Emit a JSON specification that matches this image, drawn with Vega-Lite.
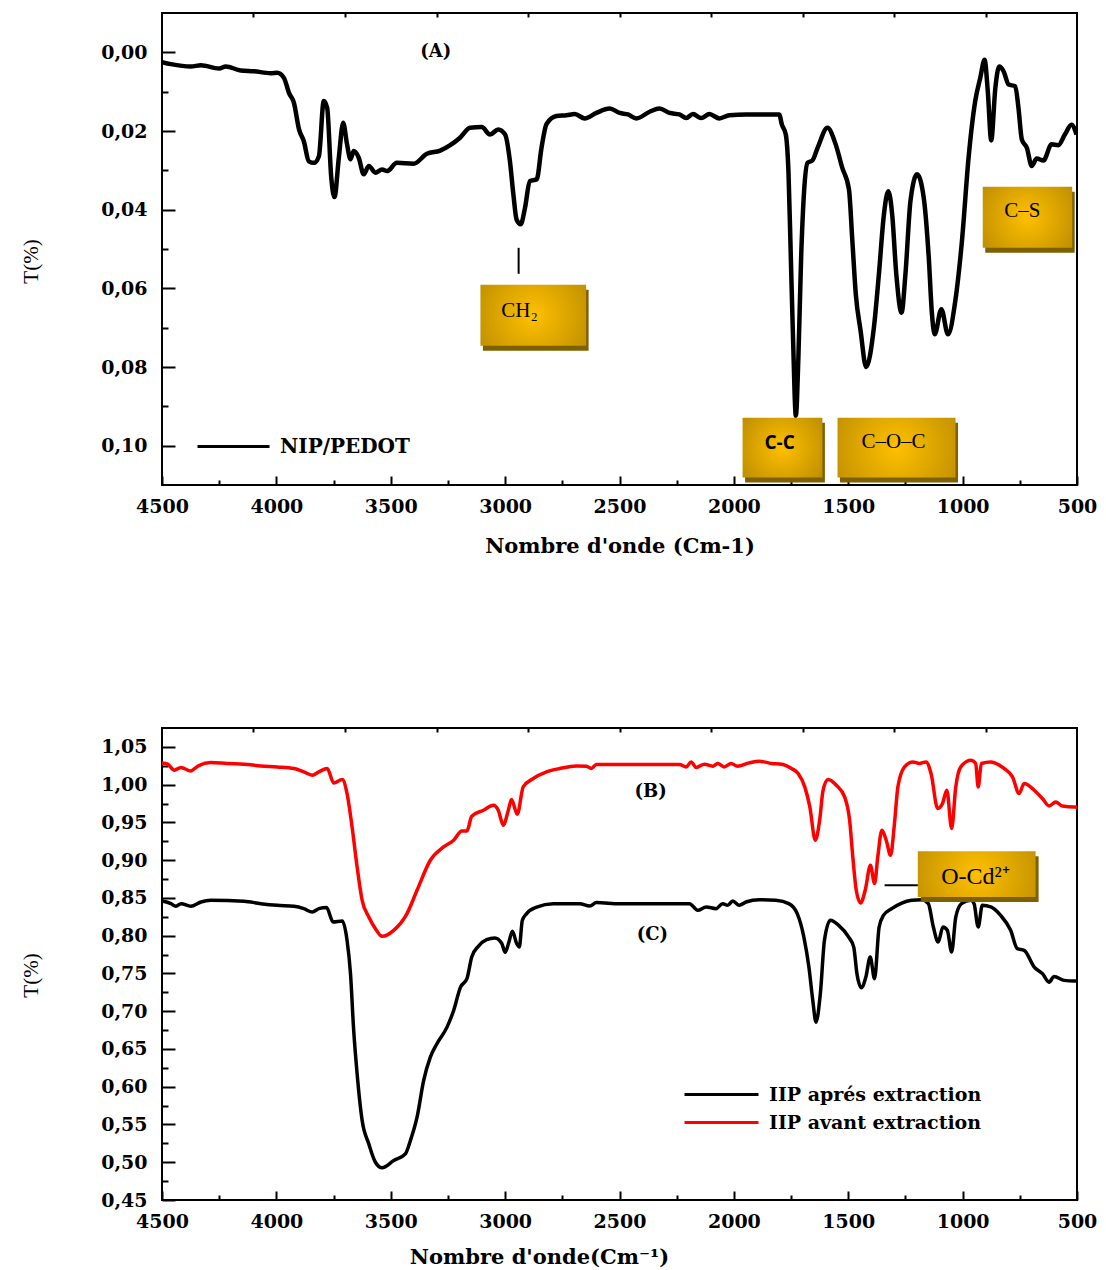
{
  "$schema": "https://vega.github.io/schema/vega-lite/v6.json",
  "background": "white",
  "padding": {"left": 19, "top": 11, "right": 0, "bottom": 0},
  "spacing": 169,
  "resolve": {"scale": {"color": "independent"}, "legend": {"color": "independent"}},
  "config": {
    "view": {"stroke": "black", "strokeWidth": 2},
    "axis": {"tickColor": "black", "tickWidth": 2, "labelColor": "black", "titleColor": "black", "grid": false, "domain": false}
  },
  "datasets": {
    "A": [
      {"wn": 4500, "T": 0.0025, "s": "NIP/PEDOT"}, {"wn": 4461, "T": 0.0030, "s": "NIP/PEDOT"}, {"wn": 4374, "T": 0.0036, "s": "NIP/PEDOT"},
      {"wn": 4330, "T": 0.0033, "s": "NIP/PEDOT"}, {"wn": 4250, "T": 0.0041, "s": "NIP/PEDOT"}, {"wn": 4221, "T": 0.0036, "s": "NIP/PEDOT"},
      {"wn": 4156, "T": 0.0046, "s": "NIP/PEDOT"}, {"wn": 4098, "T": 0.0048, "s": "NIP/PEDOT"}, {"wn": 4025, "T": 0.0053, "s": "NIP/PEDOT"},
      {"wn": 3996, "T": 0.0052, "s": "NIP/PEDOT"}, {"wn": 3967, "T": 0.0065, "s": "NIP/PEDOT"}, {"wn": 3945, "T": 0.0103, "s": "NIP/PEDOT"},
      {"wn": 3923, "T": 0.0129, "s": "NIP/PEDOT"}, {"wn": 3901, "T": 0.0196, "s": "NIP/PEDOT"}, {"wn": 3880, "T": 0.0226, "s": "NIP/PEDOT"},
      {"wn": 3858, "T": 0.0277, "s": "NIP/PEDOT"}, {"wn": 3836, "T": 0.0281, "s": "NIP/PEDOT"}, {"wn": 3814, "T": 0.0264, "s": "NIP/PEDOT"},
      {"wn": 3793, "T": 0.0124, "s": "NIP/PEDOT"}, {"wn": 3778, "T": 0.0141, "s": "NIP/PEDOT"}, {"wn": 3760, "T": 0.0319, "s": "NIP/PEDOT"},
      {"wn": 3746, "T": 0.0368, "s": "NIP/PEDOT"}, {"wn": 3727, "T": 0.0268, "s": "NIP/PEDOT"}, {"wn": 3708, "T": 0.0179, "s": "NIP/PEDOT"},
      {"wn": 3691, "T": 0.0234, "s": "NIP/PEDOT"}, {"wn": 3676, "T": 0.0272, "s": "NIP/PEDOT"}, {"wn": 3662, "T": 0.0251, "s": "NIP/PEDOT"},
      {"wn": 3640, "T": 0.0268, "s": "NIP/PEDOT"}, {"wn": 3618, "T": 0.0310, "s": "NIP/PEDOT"}, {"wn": 3596, "T": 0.0289, "s": "NIP/PEDOT"},
      {"wn": 3567, "T": 0.0306, "s": "NIP/PEDOT"}, {"wn": 3538, "T": 0.0298, "s": "NIP/PEDOT"}, {"wn": 3516, "T": 0.0302, "s": "NIP/PEDOT"},
      {"wn": 3473, "T": 0.0281, "s": "NIP/PEDOT"}, {"wn": 3400, "T": 0.0283, "s": "NIP/PEDOT"}, {"wn": 3342, "T": 0.0258, "s": "NIP/PEDOT"},
      {"wn": 3284, "T": 0.0250, "s": "NIP/PEDOT"}, {"wn": 3240, "T": 0.0236, "s": "NIP/PEDOT"}, {"wn": 3197, "T": 0.0217, "s": "NIP/PEDOT"},
      {"wn": 3153, "T": 0.0192, "s": "NIP/PEDOT"}, {"wn": 3102, "T": 0.0190, "s": "NIP/PEDOT"}, {"wn": 3066, "T": 0.0209, "s": "NIP/PEDOT"},
      {"wn": 3030, "T": 0.0196, "s": "NIP/PEDOT"}, {"wn": 3000, "T": 0.0209, "s": "NIP/PEDOT"}, {"wn": 2979, "T": 0.0277, "s": "NIP/PEDOT"},
      {"wn": 2964, "T": 0.0361, "s": "NIP/PEDOT"}, {"wn": 2950, "T": 0.0425, "s": "NIP/PEDOT"}, {"wn": 2932, "T": 0.0437, "s": "NIP/PEDOT"},
      {"wn": 2913, "T": 0.0395, "s": "NIP/PEDOT"}, {"wn": 2892, "T": 0.0327, "s": "NIP/PEDOT"}, {"wn": 2862, "T": 0.0323, "s": "NIP/PEDOT"},
      {"wn": 2841, "T": 0.0243, "s": "NIP/PEDOT"}, {"wn": 2819, "T": 0.0182, "s": "NIP/PEDOT"}, {"wn": 2775, "T": 0.0162, "s": "NIP/PEDOT"},
      {"wn": 2732, "T": 0.0160, "s": "NIP/PEDOT"}, {"wn": 2695, "T": 0.0157, "s": "NIP/PEDOT"}, {"wn": 2652, "T": 0.0168, "s": "NIP/PEDOT"},
      {"wn": 2601, "T": 0.0154, "s": "NIP/PEDOT"}, {"wn": 2543, "T": 0.0143, "s": "NIP/PEDOT"}, {"wn": 2499, "T": 0.0154, "s": "NIP/PEDOT"},
      {"wn": 2463, "T": 0.0158, "s": "NIP/PEDOT"}, {"wn": 2426, "T": 0.0168, "s": "NIP/PEDOT"}, {"wn": 2368, "T": 0.0151, "s": "NIP/PEDOT"},
      {"wn": 2325, "T": 0.0143, "s": "NIP/PEDOT"}, {"wn": 2281, "T": 0.0154, "s": "NIP/PEDOT"}, {"wn": 2238, "T": 0.0158, "s": "NIP/PEDOT"},
      {"wn": 2208, "T": 0.0167, "s": "NIP/PEDOT"}, {"wn": 2179, "T": 0.0157, "s": "NIP/PEDOT"}, {"wn": 2143, "T": 0.0167, "s": "NIP/PEDOT"},
      {"wn": 2107, "T": 0.0157, "s": "NIP/PEDOT"}, {"wn": 2063, "T": 0.0168, "s": "NIP/PEDOT"}, {"wn": 2020, "T": 0.0160, "s": "NIP/PEDOT"},
      {"wn": 1947, "T": 0.0158, "s": "NIP/PEDOT"}, {"wn": 1875, "T": 0.0158, "s": "NIP/PEDOT"}, {"wn": 1802, "T": 0.0158, "s": "NIP/PEDOT"},
      {"wn": 1790, "T": 0.0184, "s": "NIP/PEDOT"}, {"wn": 1773, "T": 0.0209, "s": "NIP/PEDOT"}, {"wn": 1761, "T": 0.0310, "s": "NIP/PEDOT"},
      {"wn": 1751, "T": 0.0522, "s": "NIP/PEDOT"}, {"wn": 1741, "T": 0.0734, "s": "NIP/PEDOT"}, {"wn": 1729, "T": 0.0924, "s": "NIP/PEDOT"},
      {"wn": 1718, "T": 0.0776, "s": "NIP/PEDOT"}, {"wn": 1706, "T": 0.0522, "s": "NIP/PEDOT"}, {"wn": 1693, "T": 0.0353, "s": "NIP/PEDOT"},
      {"wn": 1678, "T": 0.0281, "s": "NIP/PEDOT"}, {"wn": 1657, "T": 0.0275, "s": "NIP/PEDOT"}, {"wn": 1634, "T": 0.0243, "s": "NIP/PEDOT"},
      {"wn": 1591, "T": 0.0192, "s": "NIP/PEDOT"}, {"wn": 1555, "T": 0.0234, "s": "NIP/PEDOT"}, {"wn": 1526, "T": 0.0294, "s": "NIP/PEDOT"},
      {"wn": 1497, "T": 0.0348, "s": "NIP/PEDOT"}, {"wn": 1482, "T": 0.0480, "s": "NIP/PEDOT"}, {"wn": 1467, "T": 0.0615, "s": "NIP/PEDOT"},
      {"wn": 1446, "T": 0.0708, "s": "NIP/PEDOT"}, {"wn": 1422, "T": 0.0800, "s": "NIP/PEDOT"}, {"wn": 1388, "T": 0.0700, "s": "NIP/PEDOT"},
      {"wn": 1366, "T": 0.0564, "s": "NIP/PEDOT"}, {"wn": 1344, "T": 0.0412, "s": "NIP/PEDOT"}, {"wn": 1325, "T": 0.0353, "s": "NIP/PEDOT"},
      {"wn": 1308, "T": 0.0412, "s": "NIP/PEDOT"}, {"wn": 1290, "T": 0.0564, "s": "NIP/PEDOT"}, {"wn": 1267, "T": 0.0662, "s": "NIP/PEDOT"},
      {"wn": 1250, "T": 0.0564, "s": "NIP/PEDOT"}, {"wn": 1228, "T": 0.0378, "s": "NIP/PEDOT"}, {"wn": 1199, "T": 0.0310, "s": "NIP/PEDOT"},
      {"wn": 1170, "T": 0.0370, "s": "NIP/PEDOT"}, {"wn": 1148, "T": 0.0522, "s": "NIP/PEDOT"}, {"wn": 1134, "T": 0.0666, "s": "NIP/PEDOT"},
      {"wn": 1122, "T": 0.0717, "s": "NIP/PEDOT"}, {"wn": 1093, "T": 0.0653, "s": "NIP/PEDOT"}, {"wn": 1064, "T": 0.0717, "s": "NIP/PEDOT"},
      {"wn": 1032, "T": 0.0632, "s": "NIP/PEDOT"}, {"wn": 1003, "T": 0.0480, "s": "NIP/PEDOT"}, {"wn": 974, "T": 0.0268, "s": "NIP/PEDOT"},
      {"wn": 945, "T": 0.0124, "s": "NIP/PEDOT"}, {"wn": 923, "T": 0.0065, "s": "NIP/PEDOT"}, {"wn": 904, "T": 0.0019, "s": "NIP/PEDOT"},
      {"wn": 890, "T": 0.0099, "s": "NIP/PEDOT"}, {"wn": 875, "T": 0.0224, "s": "NIP/PEDOT"}, {"wn": 857, "T": 0.0091, "s": "NIP/PEDOT"},
      {"wn": 840, "T": 0.0036, "s": "NIP/PEDOT"}, {"wn": 821, "T": 0.0048, "s": "NIP/PEDOT"}, {"wn": 799, "T": 0.0082, "s": "NIP/PEDOT"},
      {"wn": 770, "T": 0.0086, "s": "NIP/PEDOT"}, {"wn": 756, "T": 0.0141, "s": "NIP/PEDOT"}, {"wn": 741, "T": 0.0222, "s": "NIP/PEDOT"},
      {"wn": 719, "T": 0.0243, "s": "NIP/PEDOT"}, {"wn": 698, "T": 0.0289, "s": "NIP/PEDOT"}, {"wn": 676, "T": 0.0270, "s": "NIP/PEDOT"},
      {"wn": 647, "T": 0.0275, "s": "NIP/PEDOT"}, {"wn": 611, "T": 0.0234, "s": "NIP/PEDOT"}, {"wn": 582, "T": 0.0236, "s": "NIP/PEDOT"},
      {"wn": 553, "T": 0.0209, "s": "NIP/PEDOT"}, {"wn": 524, "T": 0.0184, "s": "NIP/PEDOT"}, {"wn": 502, "T": 0.0209, "s": "NIP/PEDOT"}
    ],
    "B": [
      {"wn": 4500, "T": 1.0288}, {"wn": 4475, "T": 1.0271}, {"wn": 4446, "T": 1.0191}, {"wn": 4417, "T": 1.0227}, {"wn": 4374, "T": 1.0182},
      {"wn": 4344, "T": 1.0244}, {"wn": 4286, "T": 1.0293}, {"wn": 4214, "T": 1.0280}, {"wn": 4141, "T": 1.0271}, {"wn": 4068, "T": 1.0248},
      {"wn": 3996, "T": 1.0235}, {"wn": 3923, "T": 1.0214}, {"wn": 3880, "T": 1.0169}, {"wn": 3843, "T": 1.0125}, {"wn": 3814, "T": 1.0169},
      {"wn": 3778, "T": 1.0214}, {"wn": 3749, "T": 1.0023}, {"wn": 3712, "T": 1.0068}, {"wn": 3691, "T": 0.9882}, {"wn": 3669, "T": 0.9440},
      {"wn": 3647, "T": 0.8910}, {"wn": 3625, "T": 0.8468}, {"wn": 3596, "T": 0.8247}, {"wn": 3567, "T": 0.8093}, {"wn": 3538, "T": 0.7991},
      {"wn": 3487, "T": 0.8071}, {"wn": 3429, "T": 0.8292}, {"wn": 3385, "T": 0.8601}, {"wn": 3327, "T": 0.8999}, {"wn": 3269, "T": 0.9175},
      {"wn": 3225, "T": 0.9263}, {"wn": 3189, "T": 0.9387}, {"wn": 3167, "T": 0.9387}, {"wn": 3146, "T": 0.9582}, {"wn": 3095, "T": 0.9661},
      {"wn": 3051, "T": 0.9727}, {"wn": 3030, "T": 0.9661}, {"wn": 3008, "T": 0.9463}, {"wn": 2986, "T": 0.9661}, {"wn": 2972, "T": 0.9803},
      {"wn": 2947, "T": 0.9608}, {"wn": 2921, "T": 0.9970}, {"wn": 2877, "T": 1.0081}, {"wn": 2819, "T": 1.0169}, {"wn": 2761, "T": 1.0214},
      {"wn": 2688, "T": 1.0248}, {"wn": 2644, "T": 1.0244}, {"wn": 2623, "T": 1.0214}, {"wn": 2601, "T": 1.0267}, {"wn": 2543, "T": 1.0267},
      {"wn": 2238, "T": 1.0267}, {"wn": 2208, "T": 1.0235}, {"wn": 2187, "T": 1.0301}, {"wn": 2165, "T": 1.0227}, {"wn": 2129, "T": 1.0271},
      {"wn": 2092, "T": 1.0244}, {"wn": 2071, "T": 1.0280}, {"wn": 2042, "T": 1.0235}, {"wn": 2012, "T": 1.0280}, {"wn": 1984, "T": 1.0244},
      {"wn": 1933, "T": 1.0288}, {"wn": 1889, "T": 1.0310}, {"wn": 1835, "T": 1.0280}, {"wn": 1791, "T": 1.0271}, {"wn": 1748, "T": 1.0214},
      {"wn": 1719, "T": 1.0147}, {"wn": 1690, "T": 0.9970}, {"wn": 1668, "T": 0.9705}, {"wn": 1644, "T": 0.9263}, {"wn": 1625, "T": 0.9529},
      {"wn": 1610, "T": 0.9926}, {"wn": 1588, "T": 1.0068}, {"wn": 1552, "T": 0.9992}, {"wn": 1516, "T": 0.9837}, {"wn": 1494, "T": 0.9529},
      {"wn": 1480, "T": 0.9042}, {"wn": 1465, "T": 0.8601}, {"wn": 1446, "T": 0.8432}, {"wn": 1426, "T": 0.8601}, {"wn": 1403, "T": 0.8932},
      {"wn": 1385, "T": 0.8690}, {"wn": 1371, "T": 0.9042}, {"wn": 1353, "T": 0.9396}, {"wn": 1334, "T": 0.9263}, {"wn": 1315, "T": 0.9065},
      {"wn": 1298, "T": 0.9485}, {"wn": 1283, "T": 0.9970}, {"wn": 1254, "T": 1.0235}, {"wn": 1218, "T": 1.0301}, {"wn": 1189, "T": 1.0280},
      {"wn": 1160, "T": 1.0301}, {"wn": 1138, "T": 1.0147}, {"wn": 1109, "T": 0.9684}, {"wn": 1088, "T": 0.9750}, {"wn": 1069, "T": 0.9926},
      {"wn": 1048, "T": 0.9419}, {"wn": 1030, "T": 0.9970}, {"wn": 1008, "T": 1.0235}, {"wn": 964, "T": 1.0324}, {"wn": 943, "T": 1.0280},
      {"wn": 932, "T": 0.9970}, {"wn": 918, "T": 1.0280}, {"wn": 877, "T": 1.0301}, {"wn": 819, "T": 1.0214}, {"wn": 782, "T": 1.0102},
      {"wn": 753, "T": 0.9882}, {"wn": 731, "T": 1.0015}, {"wn": 687, "T": 0.9926}, {"wn": 651, "T": 0.9816}, {"wn": 622, "T": 0.9718},
      {"wn": 593, "T": 0.9771}, {"wn": 564, "T": 0.9718}, {"wn": 513, "T": 0.9705}, {"wn": 500, "T": 0.9705}
    ],
    "C": [
      {"wn": 4500, "T": 0.8459}, {"wn": 4461, "T": 0.8424}, {"wn": 4439, "T": 0.8389}, {"wn": 4417, "T": 0.8424}, {"wn": 4374, "T": 0.8389},
      {"wn": 4330, "T": 0.8446}, {"wn": 4286, "T": 0.8468}, {"wn": 4141, "T": 0.8455}, {"wn": 4068, "T": 0.8424}, {"wn": 3996, "T": 0.8402},
      {"wn": 3923, "T": 0.8389}, {"wn": 3880, "T": 0.8358}, {"wn": 3843, "T": 0.8313}, {"wn": 3814, "T": 0.8358}, {"wn": 3781, "T": 0.8372},
      {"wn": 3752, "T": 0.8181}, {"wn": 3712, "T": 0.8194}, {"wn": 3691, "T": 0.7938}, {"wn": 3676, "T": 0.7497}, {"wn": 3662, "T": 0.6745},
      {"wn": 3647, "T": 0.6171}, {"wn": 3625, "T": 0.5552}, {"wn": 3596, "T": 0.5243}, {"wn": 3567, "T": 0.5000}, {"wn": 3538, "T": 0.4926},
      {"wn": 3487, "T": 0.5022}, {"wn": 3436, "T": 0.5111}, {"wn": 3414, "T": 0.5287}, {"wn": 3385, "T": 0.5596}, {"wn": 3356, "T": 0.6083},
      {"wn": 3327, "T": 0.6391}, {"wn": 3298, "T": 0.6569}, {"wn": 3254, "T": 0.6789}, {"wn": 3225, "T": 0.7010}, {"wn": 3195, "T": 0.7319},
      {"wn": 3167, "T": 0.7430}, {"wn": 3146, "T": 0.7717}, {"wn": 3117, "T": 0.7859}, {"wn": 3081, "T": 0.7947}, {"wn": 3045, "T": 0.7970},
      {"wn": 3015, "T": 0.7900}, {"wn": 3000, "T": 0.7780}, {"wn": 2985, "T": 0.7900}, {"wn": 2968, "T": 0.8060}, {"wn": 2950, "T": 0.7900},
      {"wn": 2938, "T": 0.7850}, {"wn": 2925, "T": 0.8200}, {"wn": 2906, "T": 0.8292}, {"wn": 2862, "T": 0.8379}, {"wn": 2790, "T": 0.8424},
      {"wn": 2674, "T": 0.8424}, {"wn": 2630, "T": 0.8393}, {"wn": 2601, "T": 0.8438}, {"wn": 2499, "T": 0.8424}, {"wn": 2194, "T": 0.8424},
      {"wn": 2158, "T": 0.8336}, {"wn": 2121, "T": 0.8380}, {"wn": 2078, "T": 0.8358}, {"wn": 2049, "T": 0.8424}, {"wn": 2027, "T": 0.8402},
      {"wn": 2005, "T": 0.8459}, {"wn": 1976, "T": 0.8402}, {"wn": 1947, "T": 0.8446}, {"wn": 1889, "T": 0.8477}, {"wn": 1817, "T": 0.8468},
      {"wn": 1760, "T": 0.8424}, {"wn": 1723, "T": 0.8292}, {"wn": 1694, "T": 0.7982}, {"wn": 1672, "T": 0.7584}, {"wn": 1655, "T": 0.7143},
      {"wn": 1641, "T": 0.6855}, {"wn": 1622, "T": 0.7232}, {"wn": 1604, "T": 0.7938}, {"wn": 1578, "T": 0.8203}, {"wn": 1542, "T": 0.8137},
      {"wn": 1498, "T": 0.7982}, {"wn": 1476, "T": 0.7849}, {"wn": 1462, "T": 0.7497}, {"wn": 1443, "T": 0.7311}, {"wn": 1423, "T": 0.7452},
      {"wn": 1404, "T": 0.7717}, {"wn": 1385, "T": 0.7430}, {"wn": 1365, "T": 0.8115}, {"wn": 1346, "T": 0.8269}, {"wn": 1310, "T": 0.8358},
      {"wn": 1266, "T": 0.8432}, {"wn": 1223, "T": 0.8468}, {"wn": 1179, "T": 0.8477}, {"wn": 1150, "T": 0.8424}, {"wn": 1128, "T": 0.8115},
      {"wn": 1107, "T": 0.7916}, {"wn": 1086, "T": 0.8115}, {"wn": 1067, "T": 0.8071}, {"wn": 1048, "T": 0.7783}, {"wn": 1030, "T": 0.8247},
      {"wn": 1005, "T": 0.8424}, {"wn": 964, "T": 0.8468}, {"wn": 950, "T": 0.8424}, {"wn": 932, "T": 0.8115}, {"wn": 914, "T": 0.8402},
      {"wn": 877, "T": 0.8380}, {"wn": 834, "T": 0.8269}, {"wn": 790, "T": 0.8071}, {"wn": 761, "T": 0.7828}, {"wn": 731, "T": 0.7806},
      {"wn": 687, "T": 0.7584}, {"wn": 651, "T": 0.7497}, {"wn": 622, "T": 0.7385}, {"wn": 600, "T": 0.7461}, {"wn": 556, "T": 0.7408},
      {"wn": 513, "T": 0.7399}, {"wn": 500, "T": 0.7399}
    ],
    "boxA": [
      {"label": "CH₂", "x1": 3108, "x2": 2646, "y1": 0.0591, "y2": 0.0746, "tx": 2937, "ty": 0.0657},
      {"label": "C-C", "x1": 1962, "x2": 1613, "y1": 0.0929, "y2": 0.1081, "tx": 1800, "ty": 0.0992},
      {"label": "C–O–C", "x1": 1547, "x2": 1031, "y1": 0.0929, "y2": 0.1081, "tx": 1302, "ty": 0.0990},
      {"label": "C–S", "x1": 912, "x2": 521, "y1": 0.0342, "y2": 0.0497, "tx": 739, "ty": 0.0404}
    ],
    "boxB": [
      {"label": "O-Cd²⁺", "x1": 1196, "x2": 681, "y1": 0.9118, "y2": 0.8512, "tx": 944, "ty": 0.8774}
    ]
  },
  "vconcat": [
    {
      "width": 915,
      "height": 472,
      "layer": [
        {
          "data": {"name": "A"},
          "mark": {"type": "line", "strokeWidth": 4.5, "interpolate": "monotone", "clip": true, "strokeJoin": "round"},
          "encoding": {
            "x": {"field": "wn", "type": "quantitative",
              "scale": {"domain": [500, 4500], "reverse": true, "nice": false, "zero": false},
              "axis": {"orient": "bottom", "values": [4500, 4000, 3500, 3000, 2500, 2000, 1500, 1000, 500], "format": "d",
                "tickSize": -9, "labelPadding": 21, "labelFont": "DejaVu Serif", "labelFontWeight": "bold", "labelFontSize": 19,
                "labelFlush": false, "labelOverlap": false,
                "title": "Nombre d'onde (Cm-1)", "titleFont": "DejaVu Serif", "titleFontWeight": "bold", "titleFontSize": 21,
                "titleY": 61, "titleBaseline": "middle"}},
            "y": {"field": "T", "type": "quantitative",
              "scale": {"domain": [-0.01, 0.11], "reverse": true, "nice": false, "zero": false},
              "axis": {"orient": "left", "values": [0, 0.02, 0.04, 0.06, 0.08, 0.1],
                "labelExpr": "replace(format(datum.value, '.2f'), '.', ',')",
                "tickSize": -13, "labelPadding": 28, "labelFont": "DejaVu Serif", "labelFontWeight": "bold", "labelFontSize": 19,
                "labelFlush": false, "labelOverlap": false,
                "title": "T(%)", "titleFont": "Liberation Serif", "titleFontWeight": "normal", "titleFontSize": 21,
                "titleX": -131, "titleY": 248, "titleAngle": 270, "titleAlign": "center", "titleBaseline": "middle"}},
            "color": {"field": "s", "type": "nominal",
              "scale": {"domain": ["NIP/PEDOT"], "range": ["black"]},
              "legend": {"orient": "none", "legendX": 34, "legendY": 396, "title": null, "symbolType": "stroke",
                "symbolSize": 5184, "symbolStrokeWidth": 3, "labelFont": "DejaVu Serif", "labelFontWeight": "bold",
                "labelFontSize": 20, "labelColor": "black", "labelOffset": 9, "labelLimit": 0, "padding": 0}},
            "order": {"field": "wn", "type": "quantitative", "sort": "descending"}
          }
        },
        {
          "data": {"name": "boxA"},
          "mark": {"type": "rect", "fill": "#7F6000", "xOffset": 2.5, "x2Offset": 2.5, "yOffset": 5, "y2Offset": 5},
          "encoding": {
            "x": {"field": "x1", "type": "quantitative",
              "scale": {"domain": [500, 4500], "reverse": true, "nice": false, "zero": false},
              "axis": {"orient": "top", "values": [4100, 3700, 3300, 2900, 2500, 2100, 1700, 1300, 900],
                "tickSize": -4, "labels": false, "title": null}},
            "x2": {"field": "x2"},
            "y": {"field": "y1", "type": "quantitative",
              "scale": {"domain": [-0.01, 0.11], "reverse": true, "nice": false, "zero": false},
              "axis": {"orient": "left", "values": [0.01, 0.03, 0.05, 0.07, 0.09], "tickSize": -6, "labels": false, "title": null}},
            "y2": {"field": "y2"}
          }
        },
        {
          "data": {"name": "boxA"},
          "mark": {"type": "rect",
            "fill": {"gradient": "radial", "x1": 0.5, "y1": 0.5, "r1": 0, "x2": 0.5, "y2": 0.5, "r2": 0.6,
              "stops": [{"offset": 0, "color": "#FFC000"}, {"offset": 1, "color": "#BF8F00"}]}},
          "encoding": {
            "x": {"field": "x1", "type": "quantitative",
              "scale": {"domain": [500, 4500], "reverse": true, "nice": false, "zero": false},
              "axis": {"orient": "bottom", "values": [4250, 3750, 3250, 2750, 2250, 1750, 1250, 750],
                "tickSize": -5, "labels": false, "title": null}},
            "x2": {"field": "x2"},
            "y": {"field": "y1", "type": "quantitative",
              "scale": {"domain": [-0.01, 0.11], "reverse": true, "nice": false, "zero": false}, "axis": null},
            "y2": {"field": "y2"}
          }
        },
        {
          "data": {"name": "boxA"},
          "transform": [{"filter": "datum.label !== 'C-C'"}],
          "mark": {"type": "text", "font": "Liberation Serif", "fontSize": 21, "color": "black", "align": "center", "baseline": "middle"},
          "encoding": {
            "x": {"field": "tx", "type": "quantitative", "scale": {"domain": [500, 4500], "reverse": true, "nice": false, "zero": false}, "axis": null},
            "y": {"field": "ty", "type": "quantitative", "scale": {"domain": [-0.01, 0.11], "reverse": true, "nice": false, "zero": false}, "axis": null},
            "text": {"field": "label"}
          }
        },
        {
          "data": {"name": "boxA"},
          "transform": [{"filter": "datum.label === 'C-C'"}],
          "mark": {"type": "text", "font": "Open Sans", "fontWeight": "bold", "fontSize": 19, "color": "black", "align": "center", "baseline": "middle"},
          "encoding": {
            "x": {"field": "tx", "type": "quantitative", "scale": {"domain": [500, 4500], "reverse": true, "nice": false, "zero": false}, "axis": null},
            "y": {"field": "ty", "type": "quantitative", "scale": {"domain": [-0.01, 0.11], "reverse": true, "nice": false, "zero": false}, "axis": null},
            "text": {"field": "label"}
          }
        },
        {
          "data": {"values": [{"t": "(A)", "x": 3303, "y": 0.0}]},
          "mark": {"type": "text", "font": "DejaVu Serif", "fontWeight": "bold", "fontSize": 18, "color": "black", "align": "center", "baseline": "middle"},
          "encoding": {
            "x": {"field": "x", "type": "quantitative", "scale": {"domain": [500, 4500], "reverse": true, "nice": false, "zero": false}, "axis": null},
            "y": {"field": "y", "type": "quantitative", "scale": {"domain": [-0.01, 0.11], "reverse": true, "nice": false, "zero": false}, "axis": null},
            "text": {"field": "t"}
          }
        },
        {
          "data": {"values": [{"x": 2941, "y1": 0.0497, "y2": 0.0563}]},
          "mark": {"type": "rule", "color": "black", "strokeWidth": 2},
          "encoding": {
            "x": {"field": "x", "type": "quantitative", "scale": {"domain": [500, 4500], "reverse": true, "nice": false, "zero": false}, "axis": null},
            "y": {"field": "y1", "type": "quantitative", "scale": {"domain": [-0.01, 0.11], "reverse": true, "nice": false, "zero": false}, "axis": null},
            "y2": {"field": "y2"}
          }
        }
      ],
      "resolve": {"axis": {"x": "independent", "y": "independent"}}
    },
    {
      "width": 915,
      "height": 472,
      "layer": [
        {
          "data": {"name": "B"},
          "transform": [{"calculate": "'IIP avant extraction'", "as": "s"}],
          "mark": {"type": "line", "strokeWidth": 3.5, "interpolate": "monotone", "clip": true, "strokeJoin": "round"},
          "encoding": {
            "x": {"field": "wn", "type": "quantitative",
              "scale": {"domain": [500, 4500], "reverse": true, "nice": false, "zero": false},
              "axis": {"orient": "bottom", "values": [4500, 4000, 3500, 3000, 2500, 2000, 1500, 1000, 500], "format": "d",
                "tickSize": -9, "labelPadding": 21, "labelFont": "DejaVu Serif", "labelFontWeight": "bold", "labelFontSize": 19,
                "labelFlush": false, "labelOverlap": false,
                "title": "Nombre d'onde(Cm⁻¹)", "titleFont": "DejaVu Serif", "titleFontWeight": "bold", "titleFontSize": 21,
                "titleX": 377, "titleY": 57, "titleBaseline": "middle"}},
            "y": {"field": "T", "type": "quantitative",
              "scale": {"domain": [0.45, 1.075], "nice": false, "zero": false},
              "axis": {"orient": "left", "values": [0.45, 0.5, 0.55, 0.6, 0.65, 0.7, 0.75, 0.8, 0.85, 0.9, 0.95, 1.0, 1.05],
                "labelExpr": "replace(format(datum.value, '.2f'), '.', ',')",
                "tickSize": -13, "labelPadding": 28, "labelFont": "DejaVu Serif", "labelFontWeight": "bold", "labelFontSize": 19,
                "labelFlush": false, "labelOverlap": false,
                "title": "T(%)", "titleFont": "Liberation Serif", "titleFontWeight": "normal", "titleFontSize": 21,
                "titleX": -131, "titleY": 247, "titleAngle": 270, "titleAlign": "center", "titleBaseline": "middle"}},
            "color": {"field": "s", "type": "nominal",
              "scale": {"domain": ["IIP avant extraction"], "range": ["#FF0000"]},
              "legend": {"orient": "none", "legendX": 521, "legendY": 356, "title": null, "symbolType": "stroke",
                "symbolSize": 5476, "symbolStrokeWidth": 3, "labelFont": "DejaVu Serif", "labelFontWeight": "bold",
                "labelFontSize": 19, "labelColor": "black", "labelOffset": 9, "labelLimit": 0, "padding": 0}},
            "order": {"field": "wn", "type": "quantitative", "sort": "descending"}
          }
        },
        {
          "data": {"name": "C"},
          "transform": [{"calculate": "'IIP aprés extraction'", "as": "s"}],
          "mark": {"type": "line", "strokeWidth": 3.5, "interpolate": "monotone", "clip": true, "strokeJoin": "round"},
          "encoding": {
            "x": {"field": "wn", "type": "quantitative",
              "scale": {"domain": [500, 4500], "reverse": true, "nice": false, "zero": false},
              "axis": {"orient": "top", "values": [4100, 3700, 3300, 2900, 2500, 2100, 1700, 1300, 900],
                "tickSize": -4, "labels": false, "title": null}},
            "y": {"field": "T", "type": "quantitative",
              "scale": {"domain": [0.45, 1.075], "nice": false, "zero": false},
              "axis": {"orient": "left", "values": [0.475, 0.525, 0.575, 0.625, 0.675, 0.725, 0.775, 0.825, 0.875, 0.925, 0.975, 1.025],
                "tickSize": -6, "labels": false, "title": null}},
            "color": {"field": "s", "type": "nominal",
              "scale": {"domain": ["IIP aprés extraction"], "range": ["black"]},
              "legend": {"orient": "none", "legendX": 521, "legendY": 328, "title": null, "symbolType": "stroke",
                "symbolSize": 5476, "symbolStrokeWidth": 3, "labelFont": "DejaVu Serif", "labelFontWeight": "bold",
                "labelFontSize": 19, "labelColor": "black", "labelOffset": 9, "labelLimit": 0, "padding": 0}},
            "order": {"field": "wn", "type": "quantitative", "sort": "descending"}
          }
        },
        {
          "data": {"name": "boxB"},
          "mark": {"type": "rect", "fill": "#7F6000", "xOffset": 3, "x2Offset": 3, "yOffset": 5, "y2Offset": 5},
          "encoding": {
            "x": {"field": "x1", "type": "quantitative",
              "scale": {"domain": [500, 4500], "reverse": true, "nice": false, "zero": false},
              "axis": {"orient": "bottom", "values": [4250, 3750, 3250, 2750, 2250, 1750, 1250, 750],
                "tickSize": -5, "labels": false, "title": null}},
            "x2": {"field": "x2"},
            "y": {"field": "y1", "type": "quantitative", "scale": {"domain": [0.45, 1.075], "nice": false, "zero": false}, "axis": null},
            "y2": {"field": "y2"}
          }
        },
        {
          "data": {"name": "boxB"},
          "mark": {"type": "rect",
            "fill": {"gradient": "radial", "x1": 0.5, "y1": 0.5, "r1": 0, "x2": 0.5, "y2": 0.5, "r2": 0.6,
              "stops": [{"offset": 0, "color": "#FFC000"}, {"offset": 1, "color": "#BF8F00"}]}},
          "encoding": {
            "x": {"field": "x1", "type": "quantitative", "scale": {"domain": [500, 4500], "reverse": true, "nice": false, "zero": false}, "axis": null},
            "x2": {"field": "x2"},
            "y": {"field": "y1", "type": "quantitative", "scale": {"domain": [0.45, 1.075], "nice": false, "zero": false}, "axis": null},
            "y2": {"field": "y2"}
          }
        },
        {
          "data": {"name": "boxB"},
          "mark": {"type": "text", "font": "Liberation Serif", "fontSize": 24, "color": "black", "align": "center", "baseline": "middle"},
          "encoding": {
            "x": {"field": "tx", "type": "quantitative", "scale": {"domain": [500, 4500], "reverse": true, "nice": false, "zero": false}, "axis": null},
            "y": {"field": "ty", "type": "quantitative", "scale": {"domain": [0.45, 1.075], "nice": false, "zero": false}, "axis": null},
            "text": {"field": "label"}
          }
        },
        {
          "data": {"values": [{"t": "(B)", "x": 2364, "y": 0.99}, {"t": "(C)", "x": 2356, "y": 0.8004}]},
          "mark": {"type": "text", "font": "DejaVu Serif", "fontWeight": "bold", "fontSize": 18, "color": "black", "align": "center", "baseline": "middle"},
          "encoding": {
            "x": {"field": "x", "type": "quantitative", "scale": {"domain": [500, 4500], "reverse": true, "nice": false, "zero": false}, "axis": null},
            "y": {"field": "y", "type": "quantitative", "scale": {"domain": [0.45, 1.075], "nice": false, "zero": false}, "axis": null},
            "text": {"field": "t"}
          }
        },
        {
          "data": {"values": [{"x1": 1341, "x2": 1196, "y": 0.8667}]},
          "mark": {"type": "rule", "color": "black", "strokeWidth": 2},
          "encoding": {
            "x": {"field": "x1", "type": "quantitative", "scale": {"domain": [500, 4500], "reverse": true, "nice": false, "zero": false}, "axis": null},
            "x2": {"field": "x2"},
            "y": {"field": "y", "type": "quantitative", "scale": {"domain": [0.45, 1.075], "nice": false, "zero": false}, "axis": null}
          }
        }
      ],
      "resolve": {"scale": {"color": "independent"}, "legend": {"color": "independent"}, "axis": {"x": "independent", "y": "independent"}}
    }
  ]
}
